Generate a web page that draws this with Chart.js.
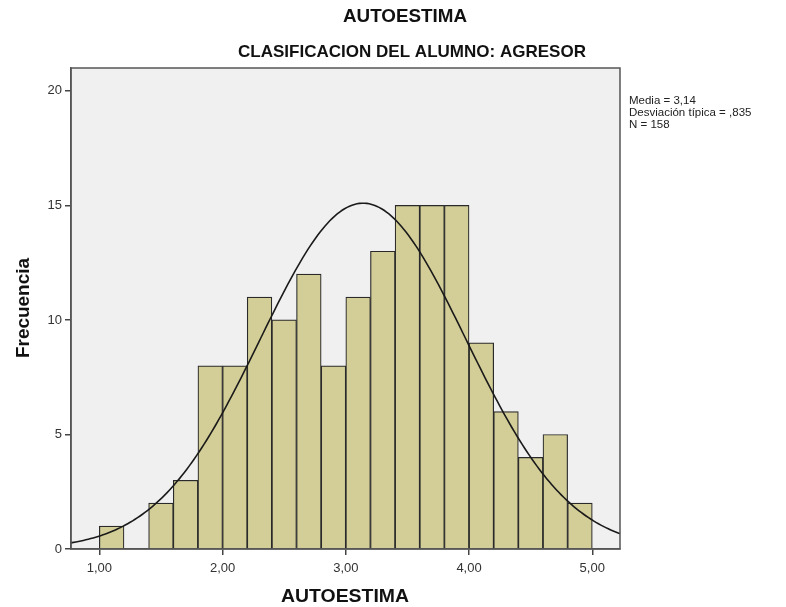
<!DOCTYPE html>
<html><head><meta charset="utf-8">
<script src="https://cdn.jsdelivr.net/npm/chart.js@4.4.0/dist/chart.umd.min.js"></script>
<style>html,body{margin:0;padding:0;background:#fff}#wrap{width:786px;height:607px}</style>
</head><body><div id="wrap"><canvas id="c" width="786" height="607"></canvas></div>
<script>
const binStarts = [1.0, 1.4, 1.6, 1.8, 2.0, 2.2, 2.4, 2.6, 2.8, 3.0, 3.2, 3.4, 3.6, 3.8, 4.0, 4.2, 4.4, 4.6, 4.8];
const frequencies = [1, 2, 3, 8, 8, 11, 10, 12, 8, 11, 13, 15, 15, 15, 9, 6, 4, 5, 2];
const binWidth = 0.2;
const mean = 3.14, stdDev = 0.835, nTotal = 158;
const xTicks = [1, 2, 3, 4, 5];
const yTicks = [0, 5, 10, 15, 20];
const statsLines = ['Media = 3,14', 'Desviación típica = ,835', 'N = 158'];
const mainTitle = 'AUTOESTIMA';
const subTitle = 'CLASIFICACION DEL ALUMNO: AGRESOR';
const xTitle = 'AUTOESTIMA';
const yTitle = 'Frecuencia';

const barData = binStarts.map((s, i) => ({x: s + binWidth / 2, y: frequencies[i]}));
// fitted normal curve from the displayed mean, sd and N
const curve = [];
for (let x = 0.77; x <= 5.23; x += 0.02) {
  const z = (x - mean) / stdDev;
  curve.push({x: x, y: nTotal * binWidth * Math.exp(-0.5 * z * z) / (stdDev * Math.sqrt(2 * Math.PI))});
}

const FONT = '"Liberation Sans", Arial, sans-serif';
function fitText(ctx, text, cx, cy, font, targetW, rot) {
  ctx.save();
  ctx.font = font;
  const w = ctx.measureText(text).width;
  ctx.translate(cx, cy);
  if (rot) ctx.rotate(rot);
  ctx.scale(targetW / w, 1);
  ctx.fillText(text, 0, 0);
  ctx.restore();
}
const deco = {
  id: 'deco',
  beforeDraw(chart) {
    const {ctx, chartArea: a} = chart;
    ctx.save();
    ctx.fillStyle = '#f0f0f0';
    ctx.fillRect(a.left, a.top, a.right - a.left, a.bottom - a.top);
    ctx.restore();
  },
  afterDraw(chart) {
    const {ctx, chartArea: a} = chart;
    ctx.save();
    ctx.strokeStyle = '#555';
    ctx.lineWidth = 1.5;
    ctx.strokeRect(a.left, a.top, a.right - a.left, a.bottom - a.top);
    ctx.fillStyle = '#111';
    ctx.textAlign = 'center';
    ctx.textBaseline = 'middle';
    fitText(ctx, mainTitle, 405, 17, 'bold 19px ' + FONT, 124);
    fitText(ctx, subTitle, 412, 52, 'bold 17px ' + FONT, 348);
    fitText(ctx, xTitle, 345, 597, 'bold 19px ' + FONT, 128);
    fitText(ctx, yTitle, 24, 308, 'bold 19px ' + FONT, 100, -Math.PI / 2);
    ctx.font = '11.5px ' + FONT;
    ctx.textAlign = 'left';
    ctx.fillStyle = '#222';
    statsLines.forEach((t, i) => ctx.fillText(t, 629, 101 + i * 12));
    ctx.restore();
  }
};

new Chart(document.getElementById('c'), {
  type: 'bar',
  data: {
    datasets: [
      {type: 'line', data: curve, borderColor: '#1a1a1a', borderWidth: 1.6, pointRadius: 0, fill: false, tension: 0, order: 0},
      {type: 'bar', data: barData, backgroundColor: 'rgb(211,206,152)', borderColor: '#2a2a2a', borderWidth: 1.2, barPercentage: 1, categoryPercentage: 1, order: 1}
    ]
  },
  options: {
    responsive: false,
    animation: false,
    devicePixelRatio: 1,
    layout: {padding: {top: 68, right: 166, left: 0, bottom: 0}},
    plugins: {legend: {display: false}, tooltip: {enabled: false}, title: {display: false}},
    scales: {
      x: {
        type: 'linear', min: 0.77, max: 5.225, offset: false,
        afterBuildTicks: s => { s.ticks = xTicks.map(v => ({value: v})); },
        afterFit: s => { s.height = 58; },
        grid: {offset: false, drawOnChartArea: false, drawTicks: true, tickLength: 6, color: '#444', lineWidth: 1.5},
        border: {display: true, color: '#555', width: 1.5},
        ticks: {font: {family: FONT, size: 13}, color: '#333', padding: 6, maxRotation: 0,
          callback: v => v.toFixed(2).replace('.', ',')}
      },
      y: {
        min: 0, max: 21,
        afterBuildTicks: s => { s.ticks = yTicks.map(v => ({value: v})); },
        afterFit: s => { s.width = 71; },
        grid: {drawOnChartArea: false, drawTicks: true, tickLength: 6, color: '#444', lineWidth: 1.5},
        border: {display: true, color: '#555', width: 1.5},
        ticks: {font: {family: FONT, size: 13}, color: '#333', padding: 3, callback: v => String(v)}
      }
    }
  },
  plugins: [deco]
});
</script>
</body></html>
